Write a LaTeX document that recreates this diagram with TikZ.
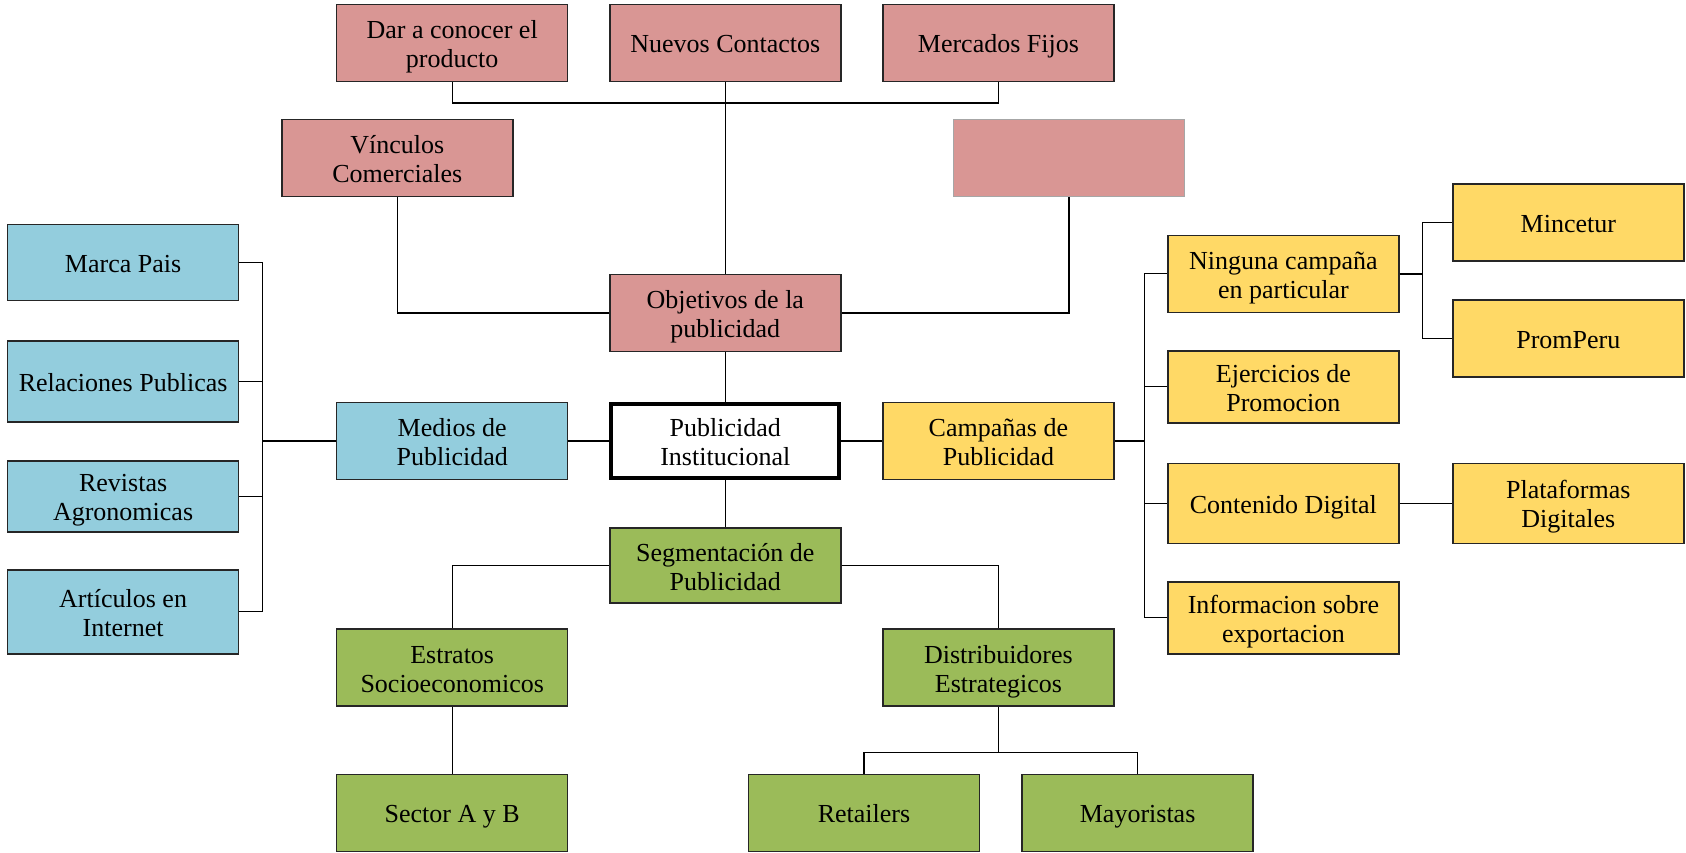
\documentclass[tikz,border=0pt]{standalone}
\usepackage{fontspec}
\setmainfont{Liberation Serif}
\definecolor{cpink}{HTML}{D99694}
\definecolor{cblue}{HTML}{93CDDD}
\definecolor{cyell}{HTML}{FFD966}
\definecolor{cgreen}{HTML}{9BBB59}
\definecolor{cedge}{HTML}{262626}
\newcommand{\topstrut}{\rule{0pt}{28pt}}
\begin{document}
\begin{tikzpicture}[x=1pt,y=-1pt,
  box/.style={rectangle, draw=cedge, line width=1.5pt, minimum width=231pt, minimum height=77pt,
    align=center, inner sep=2pt, font=\fontsize{26}{29}\selectfont,
    execute at begin node={\rule{0pt}{28pt}}, execute at end node={\rule[-8.4pt]{0pt}{8.4pt}}},
  pinkbox/.style={box, fill=cpink},
  bluebox/.style={box, fill=cblue},
  yellbox/.style={box, fill=cyell},
  greenbox/.style={box, fill=cgreen},
  conn/.style={draw=black, line width=1.3pt},
]
\useasboundingbox (0,0) rectangle (1686,853);

% pink
\node[pinkbox] (dar) at (452.2,43) {\topstrut Dar a conocer el\\producto};
\node[pinkbox] (nuevos) at (725.3,43) {Nuevos Contactos};
\node[pinkbox] (mercados) at (998.4,43) {Mercados Fijos};
\node[pinkbox] (vinc) at (397.3,158.1) {\topstrut Vínculos\\Comerciales};
\node[box, fill=cpink, draw=black!35, line width=0.7pt] (empty) at (1068.9,158.1) {};
\node[pinkbox] (obj) at (725.3,312.9) {\topstrut Objetivos de la\\publicidad};

% middle row
\node[bluebox] (medios) at (452.2,440.9) {\topstrut Medios de\\Publicidad};
\node[box, fill=white, draw=black, line width=4pt, minimum width=228pt, minimum height=74pt] (pub) at (725.3,440.9) {\topstrut Publicidad\\Institucional};
\node[yellbox] (camp) at (998.4,440.9) {\topstrut Campañas de\\Publicidad};

% green
\node[greenbox, minimum height=75pt] (seg) at (725.3,565.7) {\topstrut Segmentación de\\Publicidad};
\node[greenbox] (estr) at (452.2,667.7) {\topstrut Estratos\\Socioeconomicos};
\node[greenbox] (dist) at (998.4,667.7) {\topstrut Distribuidores\\Estrategicos};
\node[greenbox] (sector) at (452.2,812.8) {Sector A y B};
\node[greenbox] (retail) at (864,812.8) {Retailers};
\node[greenbox] (mayor) at (1137.6,812.8) {Mayoristas};

% blue
\node[bluebox, minimum height=76pt] (marca) at (123.1,262.6) {Marca Pais};
\node[bluebox, minimum height=81pt] (relac) at (123.1,381.7) {Relaciones Publicas};
\node[bluebox, minimum height=71pt] (revis) at (123.1,496.5) {\topstrut Revistas\\Agronomicas};
\node[bluebox, minimum height=84pt] (artic) at (123.1,611.8) {\topstrut Artículos en\\Internet};

% yellow
\node[yellbox] (ning) at (1283.4,273.8) {\topstrut Ninguna campaña\\en particular};
\node[yellbox, minimum height=72pt] (ejer) at (1283.4,386.8) {\topstrut Ejercicios de\\Promocion};
\node[yellbox, minimum height=80pt] (cont) at (1283.4,503.5) {Contenido Digital};
\node[yellbox, minimum height=72pt] (info) at (1283.4,617.8) {\topstrut Informacion sobre\\exportacion};
\node[yellbox] (minc) at (1568.3,222.5) {Mincetur};
\node[yellbox] (prom) at (1568.3,338.7) {PromPeru};
\node[yellbox, minimum height=80pt] (plat) at (1568.3,503.5) {\topstrut Plataformas\\Digitales};

% bus coordinates
\coordinate (tbus) at (0,103);
\coordinate (bbus) at (262.4,0);
\coordinate (cbus) at (1144.8,0);
\coordinate (nbus) at (1422.5,0);
\coordinate (dbus) at (0,752.7);

% top connectors
\draw[conn] (dar.south) -- (dar.south |- tbus) -- (mercados.south |- tbus) -- (mercados.south);
\draw[conn] (nuevos.south) -- (obj.north);
\draw[conn] (vinc.south) |- (obj.west);
\draw[conn] (empty.south) |- (obj.east);
\draw[conn] (obj.south) -- (pub.north);

% middle
\draw[conn] (pub.west) -- (medios.east);
\draw[conn] (pub.east) -- (camp.west);
\draw[conn] (pub.south) -- (seg.north);

% blue bracket
\draw[conn] (marca.east) -- (marca.east -| bbus) -- (artic.east -| bbus) -- (artic.east);
\draw[conn] (relac.east) -- (relac.east -| bbus);
\draw[conn] (revis.east) -- (revis.east -| bbus);
\draw[conn, line width=2pt] (medios.west) -- (medios.west -| bbus);

% yellow bracket
\draw[conn] (ning.west) -- (ning.west -| cbus) -- (info.west -| cbus) -- (info.west);
\draw[conn] (ejer.west) -- (ejer.west -| cbus);
\draw[conn] (cont.west) -- (cont.west -| cbus);
\draw[conn, line width=2pt] (camp.east) -- (camp.east -| cbus);
\draw[conn] (minc.west) -- (minc.west -| nbus) -- (prom.west -| nbus) -- (prom.west);
\draw[conn, line width=2pt] (ning.east) -- (ning.east -| nbus);
\draw[conn] (cont.east) -- (plat.west |- cont.east);

% green
\draw[conn] (seg.west) -| (estr.north);
\draw[conn] (seg.east) -| (dist.north);
\draw[conn] (estr.south) -- (sector.north);
\draw[conn] (dist.south) -- (dist.south |- dbus);
\draw[conn] (retail.north) -- (retail.north |- dbus) -- (mayor.north |- dbus) -- (mayor.north);
\end{tikzpicture}
\end{document}
